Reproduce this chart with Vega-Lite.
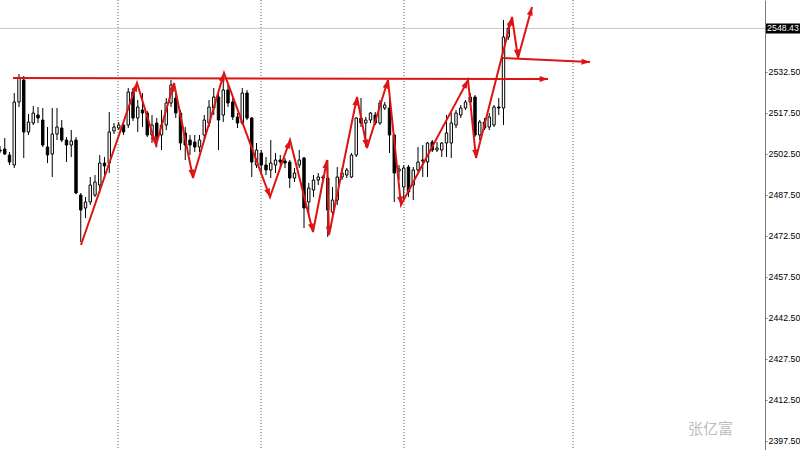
{
  "$schema": "https://vega.github.io/schema/vega-lite/v6.json",
  "width": 765,
  "height": 450,
  "autosize": {"type": "none"},
  "padding": {"left": 0, "top": 0, "right": 35, "bottom": 0},
  "background": "white",
  "config": {"view": {"stroke": null}, "scale": {"continuousPadding": 0}},
  "datasets": {
    "candles": [
      {"t":0,"o":2503.95,"h":2505.42,"l":2502.86,"c":2503.59},
      {"t":1,"o":2504.32,"h":2508.35,"l":2502.13,"c":2502.49},
      {"t":2,"o":2502.13,"h":2503.22,"l":2498.47,"c":2499.56},
      {"t":3,"o":2498.47,"h":2524.81,"l":2497.37,"c":2521.52},
      {"t":4,"o":2521.52,"h":2531.76,"l":2519.69,"c":2530.30},
      {"t":5,"o":2529.57,"h":2531.03,"l":2501.03,"c":2510.54},
      {"t":6,"o":2510.54,"h":2517.13,"l":2509.44,"c":2514.20},
      {"t":7,"o":2513.83,"h":2520.05,"l":2513.10,"c":2517.49},
      {"t":8,"o":2516.76,"h":2519.69,"l":2513.83,"c":2515.66},
      {"t":9,"o":2514.93,"h":2519.32,"l":2505.05,"c":2505.78},
      {"t":10,"o":2505.05,"h":2512.37,"l":2499.20,"c":2502.13},
      {"t":11,"o":2502.49,"h":2519.32,"l":2494.08,"c":2509.81},
      {"t":12,"o":2509.81,"h":2519.32,"l":2507.61,"c":2512.37},
      {"t":13,"o":2512.00,"h":2514.93,"l":2506.88,"c":2507.61},
      {"t":14,"o":2507.61,"h":2508.71,"l":2499.56,"c":2505.78},
      {"t":15,"o":2505.78,"h":2511.27,"l":2501.39,"c":2507.25},
      {"t":16,"o":2507.61,"h":2508.71,"l":2487.86,"c":2488.22},
      {"t":17,"o":2487.49,"h":2488.22,"l":2470.29,"c":2482.00},
      {"t":18,"o":2482.73,"h":2486.76,"l":2479.07,"c":2484.93},
      {"t":19,"o":2484.93,"h":2494.08,"l":2483.83,"c":2491.15},
      {"t":20,"o":2487.49,"h":2494.81,"l":2486.76,"c":2492.25},
      {"t":21,"o":2491.15,"h":2502.13,"l":2488.22,"c":2499.20},
      {"t":22,"o":2499.20,"h":2501.39,"l":2494.81,"c":2498.10},
      {"t":23,"o":2499.20,"h":2517.86,"l":2495.54,"c":2510.54},
      {"t":24,"o":2510.91,"h":2513.83,"l":2509.81,"c":2512.37},
      {"t":25,"o":2512.00,"h":2514.20,"l":2511.27,"c":2513.10},
      {"t":26,"o":2513.10,"h":2514.20,"l":2509.44,"c":2510.54},
      {"t":27,"o":2513.10,"h":2526.64,"l":2512.00,"c":2525.18},
      {"t":28,"o":2525.18,"h":2526.64,"l":2514.57,"c":2515.66},
      {"t":29,"o":2515.66,"h":2522.25,"l":2510.54,"c":2519.69},
      {"t":30,"o":2518.59,"h":2524.81,"l":2512.37,"c":2517.49},
      {"t":31,"o":2517.49,"h":2518.23,"l":2508.71,"c":2509.44},
      {"t":32,"o":2509.44,"h":2516.76,"l":2506.52,"c":2513.10},
      {"t":33,"o":2513.83,"h":2515.66,"l":2505.05,"c":2508.71},
      {"t":34,"o":2509.44,"h":2518.59,"l":2503.95,"c":2513.10},
      {"t":35,"o":2513.10,"h":2522.98,"l":2511.27,"c":2521.15},
      {"t":36,"o":2521.15,"h":2529.57,"l":2519.69,"c":2527.74},
      {"t":37,"o":2522.98,"h":2524.81,"l":2515.66,"c":2517.49},
      {"t":38,"o":2517.49,"h":2518.59,"l":2503.95,"c":2506.52},
      {"t":39,"o":2510.18,"h":2512.37,"l":2500.30,"c":2505.78},
      {"t":40,"o":2507.61,"h":2509.44,"l":2502.13,"c":2505.78},
      {"t":41,"o":2506.88,"h":2509.44,"l":2503.22,"c":2505.05},
      {"t":42,"o":2505.05,"h":2509.44,"l":2503.22,"c":2507.61},
      {"t":43,"o":2509.44,"h":2516.76,"l":2507.61,"c":2514.93},
      {"t":44,"o":2513.83,"h":2522.25,"l":2512.37,"c":2519.69},
      {"t":45,"o":2519.32,"h":2526.64,"l":2516.76,"c":2523.35},
      {"t":46,"o":2523.35,"h":2524.81,"l":2503.95,"c":2514.93},
      {"t":47,"o":2516.76,"h":2529.57,"l":2514.20,"c":2525.91},
      {"t":48,"o":2525.91,"h":2527.74,"l":2519.69,"c":2521.15},
      {"t":49,"o":2521.52,"h":2522.98,"l":2514.93,"c":2516.03},
      {"t":50,"o":2516.03,"h":2517.49,"l":2512.00,"c":2513.83},
      {"t":51,"o":2513.83,"h":2526.64,"l":2513.10,"c":2524.81},
      {"t":52,"o":2524.81,"h":2525.91,"l":2514.93,"c":2515.66},
      {"t":53,"o":2515.66,"h":2516.03,"l":2494.08,"c":2499.56},
      {"t":54,"o":2498.47,"h":2506.52,"l":2497.37,"c":2503.95},
      {"t":55,"o":2502.86,"h":2503.95,"l":2495.91,"c":2498.47},
      {"t":56,"o":2498.47,"h":2501.39,"l":2494.81,"c":2496.64},
      {"t":57,"o":2496.64,"h":2507.61,"l":2493.71,"c":2499.20},
      {"t":58,"o":2498.47,"h":2502.86,"l":2495.54,"c":2500.30},
      {"t":59,"o":2500.30,"h":2502.13,"l":2497.37,"c":2499.56},
      {"t":60,"o":2499.93,"h":2501.03,"l":2497.37,"c":2499.20},
      {"t":61,"o":2499.56,"h":2500.30,"l":2490.05,"c":2493.71},
      {"t":62,"o":2493.71,"h":2497.37,"l":2492.25,"c":2495.54},
      {"t":63,"o":2498.47,"h":2503.95,"l":2497.37,"c":2500.30},
      {"t":64,"o":2501.03,"h":2501.39,"l":2475.41,"c":2482.73},
      {"t":65,"o":2484.93,"h":2491.88,"l":2480.17,"c":2490.05},
      {"t":66,"o":2489.32,"h":2494.81,"l":2486.76,"c":2492.98},
      {"t":67,"o":2492.98,"h":2495.54,"l":2491.15,"c":2494.08},
      {"t":68,"o":2494.08,"h":2494.81,"l":2492.25,"c":2493.71},
      {"t":69,"o":2493.71,"h":2500.30,"l":2472.12,"c":2482.00},
      {"t":70,"o":2481.27,"h":2490.42,"l":2479.07,"c":2485.66},
      {"t":71,"o":2485.66,"h":2497.73,"l":2483.83,"c":2494.08},
      {"t":72,"o":2494.08,"h":2497.37,"l":2492.98,"c":2495.54},
      {"t":73,"o":2494.81,"h":2497.37,"l":2493.71,"c":2496.64},
      {"t":74,"o":2494.08,"h":2502.86,"l":2493.71,"c":2502.13},
      {"t":75,"o":2502.13,"h":2516.03,"l":2501.39,"c":2515.66},
      {"t":76,"o":2515.66,"h":2522.98,"l":2512.37,"c":2513.83},
      {"t":77,"o":2513.83,"h":2516.03,"l":2505.05,"c":2514.93},
      {"t":78,"o":2514.93,"h":2517.86,"l":2513.83,"c":2517.49},
      {"t":79,"o":2516.76,"h":2517.86,"l":2513.10,"c":2513.83},
      {"t":80,"o":2513.83,"h":2522.25,"l":2513.10,"c":2521.15},
      {"t":81,"o":2519.32,"h":2521.52,"l":2518.59,"c":2520.42},
      {"t":82,"o":2519.32,"h":2525.91,"l":2502.86,"c":2509.44},
      {"t":83,"o":2509.44,"h":2509.44,"l":2484.93,"c":2495.54},
      {"t":84,"o":2496.27,"h":2498.47,"l":2492.98,"c":2497.00},
      {"t":85,"o":2490.42,"h":2498.47,"l":2485.66,"c":2497.37},
      {"t":86,"o":2497.73,"h":2498.47,"l":2486.76,"c":2488.59},
      {"t":87,"o":2491.15,"h":2497.73,"l":2485.66,"c":2496.64},
      {"t":88,"o":2496.64,"h":2505.05,"l":2495.91,"c":2499.56},
      {"t":89,"o":2499.93,"h":2505.78,"l":2494.08,"c":2500.30},
      {"t":90,"o":2499.56,"h":2506.88,"l":2494.08,"c":2506.52},
      {"t":91,"o":2506.88,"h":2507.61,"l":2503.22,"c":2503.95},
      {"t":92,"o":2503.95,"h":2506.88,"l":2503.22,"c":2504.69},
      {"t":93,"o":2503.95,"h":2506.88,"l":2501.39,"c":2506.52},
      {"t":94,"o":2506.52,"h":2516.76,"l":2501.39,"c":2510.18},
      {"t":95,"o":2506.52,"h":2517.49,"l":2501.03,"c":2513.83},
      {"t":96,"o":2513.10,"h":2518.59,"l":2512.00,"c":2517.49},
      {"t":97,"o":2516.76,"h":2520.42,"l":2515.66,"c":2519.32},
      {"t":98,"o":2519.32,"h":2522.25,"l":2518.59,"c":2521.52},
      {"t":99,"o":2521.52,"h":2524.81,"l":2521.15,"c":2523.35},
      {"t":100,"o":2523.35,"h":2524.08,"l":2508.71,"c":2509.44},
      {"t":101,"o":2509.44,"h":2514.93,"l":2507.61,"c":2514.20},
      {"t":102,"o":2514.20,"h":2515.66,"l":2511.27,"c":2512.00},
      {"t":103,"o":2512.37,"h":2517.49,"l":2511.27,"c":2516.03},
      {"t":104,"o":2513.10,"h":2520.42,"l":2512.37,"c":2519.69},
      {"t":105,"o":2519.69,"h":2522.98,"l":2516.76,"c":2519.32},
      {"t":106,"o":2519.32,"h":2551.52,"l":2513.10,"c":2545.30},
      {"t":107,"o":2545.30,"h":2550.42,"l":2544.20,"c":2548.43}
    ],
    "vgrid": [{"t":24.84},{"t":54.95},{"t":85.05},{"t":120.63}],
    "current": [{"price":2548.43,"label":"2548.43"}],
    "drawing": [
      {"g":"A","k":1,"t":17.05,"price":2469.19},
      {"g":"A","k":2,"t":28.84,"price":2528.47},
      {"g":"A","k":3,"t":32.84,"price":2505.78},
      {"g":"A","k":4,"t":36.63,"price":2528.47},
      {"g":"A","k":5,"t":40.63,"price":2493.71},
      {"g":"A","k":6,"t":47.16,"price":2532.13},
      {"g":"A","k":7,"t":56.84,"price":2486.76},
      {"g":"A","k":8,"t":61.05,"price":2507.61},
      {"g":"A","k":9,"t":65.89,"price":2473.95},
      {"g":"A","k":10,"t":68.84,"price":2500.29},
      {"g":"A","k":11,"t":69.26,"price":2472.85},
      {"g":"A","k":12,"t":75.16,"price":2523.35},
      {"g":"A","k":13,"t":77.26,"price":2504.69},
      {"g":"A","k":14,"t":81.68,"price":2529.57},
      {"g":"A","k":15,"t":84.42,"price":2483.83},
      {"g":"A","k":16,"t":98.53,"price":2529.57},
      {"g":"A","k":17,"t":100.21,"price":2501.03},
      {"g":"A","k":18,"t":107.79,"price":2552.62},
      {"g":"A","k":19,"t":109.05,"price":2537.62},
      {"g":"A","k":20,"t":112.0,"price":2556.28},
      {"g":"B","k":1,"t":2.74,"price":2530.30},
      {"g":"B","k":2,"t":115.37,"price":2529.93},
      {"g":"C","k":1,"t":105.9,"price":2537.62},
      {"g":"C","k":2,"t":124.2,"price":2536.15}
    ],
    "heads": [
      {"t":28.84,"price":2528.47,"dir":19.1},
      {"t":32.84,"price":2505.78,"dir":163.0},
      {"t":36.63,"price":2528.47,"dir":16.2},
      {"t":40.63,"price":2493.71,"dir":168.7},
      {"t":47.16,"price":2532.13,"dir":16.5},
      {"t":56.84,"price":2486.76,"dir":159.7},
      {"t":61.05,"price":2507.61,"dir":19.3},
      {"t":65.89,"price":2473.95,"dir":166.0},
      {"t":68.84,"price":2500.29,"dir":11.0},
      {"t":69.26,"price":2472.85,"dir":178.5},
      {"t":75.16,"price":2523.35,"dir":11.5},
      {"t":77.26,"price":2504.69,"dir":168.9},
      {"t":81.68,"price":2529.57,"dir":17.2},
      {"t":84.42,"price":2483.83,"dir":174.1},
      {"t":98.53,"price":2529.57,"dir":28.2},
      {"t":100.21,"price":2501.03,"dir":174.1},
      {"t":107.79,"price":2552.62,"dir":14.3},
      {"t":109.05,"price":2537.62,"dir":171.7},
      {"t":112.0,"price":2556.28,"dir":15.4},
      {"t":115.37,"price":2529.93,"dir":90.1},
      {"t":124.2,"price":2536.15,"dir":92.6}
    ],
    "mark": [{"name":"张亿富"}]
  },
  "layer": [
    {
      "data": {"name": "vgrid"},
      "mark": {"type": "rule", "color": "#5a5a5a", "strokeWidth": 1, "strokeDash": [1, 2]},
      "encoding": {
        "x": {"field": "t", "type": "quantitative", "scale": {"domain": [0, 161.05], "nice": false, "zero": false, "padding": 0}, "axis": null}
      }
    },
    {
      "data": {"name": "current"},
      "mark": {"type": "rule", "color": "#c8c8c8", "strokeWidth": 1},
      "encoding": {
        "y": {
          "field": "price", "type": "quantitative",
          "scale": {"domain": [2394.2, 2558.84], "nice": false, "zero": false},
          "axis": {
            "orient": "right", "title": null, "grid": false,
            "values": [2397.5, 2412.5, 2427.5, 2442.5, 2457.5, 2472.5, 2487.5, 2502.5, 2517.5, 2532.5],
            "format": ".2f",
            "domainColor": "#7a7a7a", "domainWidth": 1,
            "tickColor": "#7a7a7a", "tickSize": 2,
            "labelFont": "Liberation Sans", "labelFontSize": 8.8, "labelColor": "#000000",
            "labelPadding": 1
          }
        }
      }
    },
    {
      "data": {"name": "candles"},
      "mark": {"type": "rule", "color": "#000000", "strokeWidth": 1, "clip": true},
      "encoding": {
        "x": {"field": "t", "type": "quantitative", "scale": {"domain": [0, 161.05], "nice": false, "zero": false, "padding": 0}, "axis": null},
        "y": {"field": "l", "type": "quantitative", "scale": {"domain": [2394.2, 2558.84], "nice": false, "zero": false}, "title": null},
        "y2": {"field": "h"}
      }
    },
    {
      "data": {"name": "candles"},
      "mark": {"type": "bar", "size": 2.4, "stroke": "#000000", "strokeWidth": 1, "clip": true},
      "encoding": {
        "x": {"field": "t", "type": "quantitative", "scale": {"domain": [0, 161.05], "nice": false, "zero": false, "padding": 0}, "axis": null},
        "y": {"field": "o", "type": "quantitative", "scale": {"domain": [2394.2, 2558.84], "nice": false, "zero": false}, "title": null},
        "y2": {"field": "c"},
        "fill": {"condition": {"test": "datum.c >= datum.o", "value": "#ffffff"}, "value": "#000000"}
      }
    },
    {
      "data": {"name": "drawing"},
      "mark": {"type": "line", "color": "#dc1414", "strokeWidth": 2, "clip": false},
      "encoding": {
        "x": {"field": "t", "type": "quantitative", "scale": {"domain": [0, 161.05], "nice": false, "zero": false, "padding": 0}, "axis": null},
        "y": {"field": "price", "type": "quantitative", "scale": {"domain": [2394.2, 2558.84], "nice": false, "zero": false}, "title": null},
        "detail": {"field": "g"},
        "order": {"field": "k", "type": "quantitative"}
      }
    },
    {
      "data": {"name": "heads"},
      "mark": {"type": "point", "shape": "M0,0L0.75,2.1L-0.75,2.1Z", "filled": true, "color": "#dc1414", "opacity": 1, "size": 64, "clip": false},
      "encoding": {
        "x": {"field": "t", "type": "quantitative", "scale": {"domain": [0, 161.05], "nice": false, "zero": false, "padding": 0}, "axis": null},
        "y": {"field": "price", "type": "quantitative", "scale": {"domain": [2394.2, 2558.84], "nice": false, "zero": false}, "title": null},
        "angle": {"field": "dir", "type": "quantitative", "scale": null}
      }
    },
    {
      "data": {"name": "current"},
      "mark": {"type": "point", "shape": "M-1.7,-0.5H1.7V0.5H-1.7Z", "filled": true, "color": "#000000", "opacity": 1, "size": 400, "clip": false},
      "encoding": {
        "x": {"datum": 164.84, "type": "quantitative", "scale": {"domain": [0, 161.05], "nice": false, "zero": false, "padding": 0}, "axis": null},
        "y": {"field": "price", "type": "quantitative", "scale": {"domain": [2394.2, 2558.84], "nice": false, "zero": false}, "title": null}
      }
    },
    {
      "data": {"name": "current"},
      "mark": {"type": "text", "color": "#ffffff", "font": "Liberation Sans", "fontSize": 8.8, "align": "center", "baseline": "middle", "clip": false},
      "encoding": {
        "x": {"datum": 164.84, "type": "quantitative", "scale": {"domain": [0, 161.05], "nice": false, "zero": false, "padding": 0}, "axis": null},
        "y": {"field": "price", "type": "quantitative", "scale": {"domain": [2394.2, 2558.84], "nice": false, "zero": false}, "title": null},
        "text": {"field": "label"}
      }
    },
    {
      "data": {"name": "mark"},
      "mark": {"type": "text", "color": "#bdbdbd", "font": "Noto Sans CJK SC", "fontSize": 15, "align": "center", "baseline": "middle"},
      "encoding": {
        "x": {"datum": 149.58, "type": "quantitative", "scale": {"domain": [0, 161.05], "nice": false, "zero": false, "padding": 0}, "axis": null},
        "y": {"datum": 2401.9, "type": "quantitative", "scale": {"domain": [2394.2, 2558.84], "nice": false, "zero": false}, "title": null},
        "text": {"field": "name"}
      }
    }
  ]
}
